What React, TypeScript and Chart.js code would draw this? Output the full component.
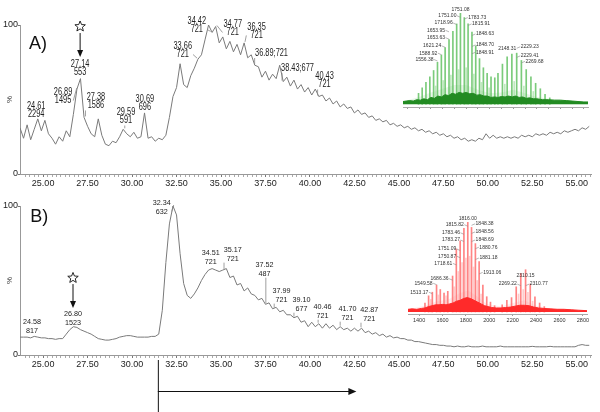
import React, { useEffect, useRef } from "react";
import { Chart, registerables } from "chart.js";
Chart.register(...registerables);

const FONT = "'Liberation Sans', Arial, sans-serif";

// ---------- chromatogram data ----------
const TIME_START = 23.7;
const TIME_STEP = 0.2;
const TIME_MIN = 23.7;
const TIME_MAX = 55.8;
const TIME_TICKS = [25, 27.5, 30, 32.5, 35, 37.5, 40, 42.5, 45, 47.5, 50, 52.5, 55];
const PCT_TICKS = [0, 100];

const traceA = [
  31, 24, 33, 23, 30, 37, 29, 36, 27, 24, 20, 25, 22,
  29, 25, 40, 57, 64, 38, 32, 27, 25,
  37, 26, 20, 19, 22, 21, 25, 30, 27, 25,
  28, 24, 25, 41, 24, 25, 22, 24, 23, 26,
  38, 52, 58, 74, 60, 58, 66, 71, 77, 80,
  90, 100, 95, 99, 88, 92, 84, 89, 82, 87,
  80, 88, 78, 80, 73, 72, 65, 69, 63, 67,
  64, 73, 62, 65, 59, 63, 57, 60, 55, 58,
  53, 57, 52, 53, 49, 51, 47, 49, 45, 47,
  44, 45, 41, 43, 40, 41, 38, 39, 36, 37,
  35, 36, 33, 34, 32, 33, 31, 32, 30, 31,
  29, 30, 28, 29, 27, 28, 26, 27, 25, 26,
  24, 25, 23, 24, 22, 23, 22, 24, 23, 27,
  24, 26, 24, 25, 24, 25, 24, 25, 24, 26,
  25, 26, 25, 27, 26, 27, 26, 28, 27, 28,
  27, 29, 28, 29, 30, 29, 31, 30, 32,
];

const traceB = [
  12, 12, 12, 11.5, 12.5, 12, 11.5, 11.5, 11, 11, 10.5, 11, 11,
  14, 17, 19, 18.5, 17, 16, 15, 14, 12.5,
  11, 10.5, 10, 10, 10.5, 11, 12, 12.5, 13, 13,
  12.5, 12, 12, 12, 12, 12.5, 12.5, 14, 30, 62,
  88, 100, 94, 68, 48, 40, 38, 41, 45, 50,
  54, 57, 58, 57, 56, 57, 58, 52, 53, 47,
  48, 43, 45, 41, 40, 37, 38, 34, 35, 31,
  32, 29, 30, 27, 27, 25, 26, 22, 23, 19,
  22, 19, 21, 18, 21, 18, 20, 17, 19, 17,
  18, 16, 18, 16, 18, 15, 16, 14, 15, 13,
  14, 12, 13, 11.5, 12, 11, 11, 10, 10, 9,
  9, 8.5, 8, 7.5, 7, 7, 6.5, 6.5, 6, 6,
  5.5, 6, 5.5, 5.5, 6, 5.5, 5.5, 5.5, 6, 5.5,
  5.5, 5.5, 5.5, 6, 5.5, 5.5, 5.5, 5.5, 5.5, 5.5,
  5.5, 5.5, 5.8, 5.5, 5.5, 5.5, 5.5, 5.8, 5.5, 5.5,
  5.5, 5.5, 5.5, 5.5, 5.5, 6.5, 7, 6.5, 6.5,
];

type ChromLabel = { peak: number; code: string; t: number; v: number; inline?: boolean };

const labelsA: ChromLabel[] = [
  { peak: 24.61, code: "2294", t: 24.61, v: 45.6 },
  { peak: 26.89, code: "1495", t: 26.12, v: 55 },
  { peak: 27.14, code: "553", t: 27.08, v: 73.8 },
  { peak: 27.38, code: "1586", t: 27.97, v: 51.7 },
  { peak: 29.59, code: "591", t: 29.66, v: 41.6 },
  { peak: 30.69, code: "696", t: 30.72, v: 50.3 },
  { peak: 33.66, code: "721", t: 32.85, v: 85.9 },
  { peak: 34.42, code: "721", t: 33.64, v: 102.7 },
  { peak: 34.77, code: "721", t: 35.66, v: 100.7 },
  { peak: 36.35, code: "721", t: 37.0, v: 98.7 },
  { peak: 36.89, code: "721", t: 37.84, v: 81.2, inline: true },
  { peak: 38.43, code: "677", t: 39.3, v: 71.1, inline: true },
  { peak: 40.43, code: "721", t: 40.82, v: 65.8 },
];

const labelsB: ChromLabel[] = [
  { peak: 24.58, code: "817", t: 24.38, v: 22 },
  { peak: 26.8, code: "1523", t: 26.68, v: 27.5 },
  { peak: 32.34, code: "632", t: 31.67, v: 102 },
  { peak: 34.51, code: "721", t: 34.42, v: 68.5 },
  { peak: 35.17, code: "721", t: 35.66, v: 70.5 },
  { peak: 37.52, code: "487", t: 37.45, v: 60.4 },
  { peak: 37.99, code: "721", t: 38.4, v: 43 },
  { peak: 39.1, code: "677", t: 39.53, v: 36.9 },
  { peak: 40.46, code: "721", t: 40.7, v: 32.2 },
  { peak: 41.7, code: "721", t: 42.11, v: 30.9 },
  { peak: 42.87, code: "721", t: 43.34, v: 30.2 },
];

const starA = { t: 27.08, v: 99, from: 94.6, to: 78.5 };
const starB = { t: 26.68, v: 51.7, from: 47.6, to: 31.5 };
const rangeB = [31.45, 42.61];

// ---------- mass spectra (insets) ----------
const MZ_MIN_A = 1263;
const MZ_MAX_A = 2835;
const MZ_MIN_B = 1305;
const MZ_MAX_B = 2835;
const MZ_TICKS_A = [1300, 1400, 1500, 1600, 1700, 1800, 1900, 2000, 2100, 2200, 2300, 2400, 2500, 2600, 2700, 2800];
const MZ_TICKS_B = [1400, 1600, 1800, 2000, 2200, 2400, 2600, 2800];

const sticksA: [number, number][] = [
  [1395, 12], [1426, 18], [1458, 24], [1491, 30], [1523, 37], [1556, 46], [1589, 54], [1621, 62],
  [1654, 71], [1687, 80], [1719, 88], [1751, 100], [1784, 95], [1816, 88], [1849, 79], [1881, 64],
  [1913, 50], [1946, 40], [1978, 34], [2011, 30], [2043, 29], [2070, 34], [2108, 44], [2148, 52],
  [2188, 55], [2229, 56], [2269, 48], [2310, 38], [2350, 30], [2390, 23], [2430, 17], [2470, 11], [2510, 7],
];
const minorA: [number, number][] = [
  [1540, 20], [1605, 26], [1670, 32], [1735, 38], [1800, 40], [1865, 33], [1930, 24], [1995, 18],
  [2128, 22], [2208, 25], [2290, 20], [2370, 14],
];
const bandA: [number, number][] = [
  [1263, 3], [1290, 3.5], [1320, 4], [1350, 3.5], [1380, 5], [1410, 4.5], [1440, 6], [1470, 5],
  [1500, 7.5], [1530, 6.5], [1560, 9], [1590, 8], [1620, 10.5], [1650, 9.5], [1680, 12], [1710, 11],
  [1740, 13], [1770, 12], [1800, 13], [1830, 11.5], [1860, 12], [1890, 10], [1920, 10.5], [1950, 9],
  [1980, 9], [2010, 7.5], [2040, 8], [2070, 7.5], [2100, 8.5], [2130, 8], [2160, 9], [2190, 8],
  [2220, 9], [2250, 7.5], [2280, 8], [2310, 6.5], [2340, 7], [2370, 6], [2400, 6], [2450, 5],
  [2500, 5], [2550, 4.5], [2600, 4.5], [2650, 4], [2700, 3.5], [2750, 3], [2800, 2.5], [2835, 2.5],
];
const hazeA: [number, number][] = [
  [1263, 3], [1400, 8], [1500, 13], [1600, 17], [1700, 21], [1800, 21], [1900, 16], [2000, 12],
  [2100, 13], [2200, 16], [2300, 12], [2400, 8], [2500, 6], [2600, 5], [2700, 4], [2835, 3],
];
const insetLabelsA: [number, number, string][] = [
  [1751.08, 104, "c"], [1751.0, 97, "l"], [1783.73, 95, "r"], [1718.96, 89, "l"], [1815.91, 88, "r"],
  [1653.95, 81, "l"], [1653.63, 73, "l"], [1848.63, 77, "r"], [1621.24, 64, "l"], [1848.7, 65, "r"],
  [1848.91, 57, "r"], [1588.92, 56, "l"], [1556.38, 49, "l"], [2148.31, 61, "c"], [2229.23, 63, "r"],
  [2229.41, 53, "r"], [2269.68, 47, "r"],
];

const sticksB: [number, number][] = [
  [1450, 10], [1481, 18], [1513, 22], [1549, 30], [1581, 25], [1613, 21], [1645, 23], [1686, 40],
  [1718, 70], [1751, 79], [1783, 93], [1816, 100], [1848, 94], [1881, 76], [1913, 56], [1945, 30],
  [1978, 17], [2010, 11], [2045, 7], [2110, 8], [2150, 13], [2190, 16], [2230, 28], [2269, 43],
  [2310, 47], [2350, 31], [2390, 17], [2430, 10], [2470, 6],
];
const minorB: [number, number][] = [
  [1500, 14], [1565, 19], [1630, 18], [1700, 28], [1735, 45], [1767, 55], [1800, 60], [1832, 62],
  [1865, 50], [1897, 35], [1930, 20], [2250, 20], [2290, 25], [2330, 22], [2370, 12],
];
const bandB: [number, number][] = [
  [1305, 3], [1340, 3.5], [1380, 3], [1420, 4], [1450, 4.5], [1480, 6], [1510, 7], [1540, 8],
  [1570, 8], [1600, 8.5], [1630, 8], [1660, 9], [1690, 10], [1720, 12], [1750, 13], [1780, 15],
  [1810, 16], [1840, 15], [1870, 13], [1900, 11], [1930, 9], [1960, 7], [1990, 6], [2020, 5],
  [2060, 4.5], [2100, 4.5], [2140, 5], [2180, 5.5], [2220, 6.5], [2260, 7.5], [2300, 7.5], [2340, 7],
  [2380, 5.5], [2420, 4.5], [2460, 4], [2520, 3.5], [2580, 3], [2640, 3], [2700, 2.5], [2760, 2], [2835, 1.5],
];
const hazeB: [number, number][] = [
  [1305, 3], [1450, 7], [1550, 12], [1650, 14], [1750, 21], [1820, 24], [1900, 17], [1980, 9],
  [2100, 6], [2200, 10], [2300, 13], [2400, 7], [2500, 4.5], [2700, 3], [2835, 2],
];
const insetLabelsB: [number, number, string][] = [
  [1816.0, 104, "c"], [1815.82, 97, "l"], [1848.38, 98, "r"], [1783.46, 88, "l"], [1848.56, 89, "r"],
  [1783.27, 80, "l"], [1848.69, 80, "r"], [1751.09, 70, "l"], [1880.76, 72, "r"], [1750.87, 62, "l"],
  [1881.18, 60, "r"], [1718.61, 54, "l"], [1913.06, 44, "r"], [1686.36, 37, "l"], [1549.58, 32, "l"],
  [1513.17, 22, "l"], [2310.15, 40, "c"], [2269.22, 31, "l"], [2310.77, 31, "r"],
];

// ---------- helpers ----------
const isMajor = (v: number) => Math.abs(v / 2.5 - Math.round(v / 2.5)) < 1e-6;
const minorTimes: number[] = [];
for (let k = 96; k <= 223; k++) minorTimes.push(k / 4);

function drawStar(ctx: CanvasRenderingContext2D, cx: number, cy: number) {
  const R = 5.5, r = 2.4;
  ctx.beginPath();
  for (let i = 0; i < 10; i++) {
    const rad = i % 2 === 0 ? R : r;
    const a = -Math.PI / 2 + (i * Math.PI) / 5;
    const px = cx + rad * Math.cos(a);
    const py = cy + rad * Math.sin(a);
    if (i === 0) ctx.moveTo(px, py);
    else ctx.lineTo(px, py);
  }
  ctx.closePath();
  ctx.stroke();
}

type ChromOpts = {
  values: number[];
  labels: ChromLabel[];
  letter: string;
  letterPos: [number, number];
  star: { t: number; v: number; from: number; to: number };
  fontSize: number;
  squish: number;
  padTop: number;
  padBottom: number;
  range?: number[];
};

function chromPlugin(o: ChromOpts) {
  return {
    id: "chromAnnot",
    afterDatasetsDraw(chart: any) {
      const { ctx, scales, chartArea } = chart;
      const x = scales.x, y = scales.y;
      ctx.save();
      ctx.fillStyle = "#111";
      ctx.font = `18px ${FONT}`;
      ctx.textAlign = "left";
      ctx.textBaseline = "alphabetic";
      ctx.fillText(o.letter, x.getPixelForValue(o.letterPos[0]), y.getPixelForValue(o.letterPos[1]));

      ctx.font = `${o.fontSize}px ${FONT}`;
      ctx.textBaseline = "middle";
      ctx.textAlign = "center";
      const gap = 8.5;
      for (const l of o.labels) {
        const lines = l.inline ? [`${l.peak.toFixed(2)};${l.code}`] : [l.peak.toFixed(2), l.code];
        const cx = x.getPixelForValue(l.t);
        const cy = y.getPixelForValue(l.v);
        let w = 0;
        lines.forEach((s, i) => {
          w = Math.max(w, ctx.measureText(s).width * o.squish);
          ctx.save();
          ctx.translate(cx, cy + i * gap);
          ctx.scale(o.squish, 1);
          ctx.fillStyle = "#222";
          ctx.fillText(s, 0, 0);
          ctx.restore();
        });
        const left = cx - w / 2, right = cx + w / 2;
        const lastY = cy + (lines.length - 1) * gap;
        const bottom = lastY + o.fontSize * 0.4;
        const idx = Math.round((l.peak - TIME_START) / TIME_STEP);
        const pv = o.values[Math.max(0, Math.min(o.values.length - 1, idx))];
        const px = x.getPixelForValue(l.peak);
        const py = y.getPixelForValue(pv) - 1;
        ctx.strokeStyle = "#888";
        ctx.lineWidth = 0.8;
        ctx.beginPath();
        if (px >= left - 2 && px <= right + 2) {
          if (py - bottom > 3) {
            ctx.moveTo(px, bottom + 1);
            ctx.lineTo(px, py);
          }
        } else if (px > right) {
          ctx.moveTo(right + 1, lastY);
          ctx.lineTo(px, py);
        } else {
          ctx.moveTo(left - 1, lastY);
          ctx.lineTo(px, py);
        }
        ctx.stroke();
      }

      const sx = x.getPixelForValue(o.star.t);
      ctx.strokeStyle = "#111";
      ctx.fillStyle = "#111";
      ctx.lineWidth = 0.9;
      drawStar(ctx, sx, y.getPixelForValue(o.star.v));
      const y1 = y.getPixelForValue(o.star.from);
      const y2 = y.getPixelForValue(o.star.to);
      ctx.lineWidth = 1;
      ctx.beginPath();
      ctx.moveTo(sx, y1);
      ctx.lineTo(sx, y2 - 6);
      ctx.stroke();
      ctx.beginPath();
      ctx.moveTo(sx - 3, y2 - 7);
      ctx.lineTo(sx + 3, y2 - 7);
      ctx.lineTo(sx, y2);
      ctx.closePath();
      ctx.fill();

      if (o.range) {
        const xa = x.getPixelForValue(o.range[0]);
        const xb = x.getPixelForValue(o.range[1]);
        const ya = chartArea.bottom + 5;
        const yb = chart.height;
        const yArrow = chartArea.bottom + 36;
        ctx.lineWidth = 1;
        ctx.beginPath();
        ctx.moveTo(xa + 0.5, ya);
        ctx.lineTo(xa + 0.5, yb);
        ctx.moveTo(xa, yArrow + 0.5);
        ctx.lineTo(xb - 7, yArrow + 0.5);
        ctx.stroke();
        ctx.beginPath();
        ctx.moveTo(xb - 8, yArrow - 3);
        ctx.lineTo(xb - 8, yArrow + 4);
        ctx.lineTo(xb, yArrow + 0.5);
        ctx.closePath();
        ctx.fill();
      }
      ctx.restore();
    },
  };
}

function chromConfig(o: ChromOpts): any {
  const pts = o.values.map((v, i) => ({ x: +(TIME_START + i * TIME_STEP).toFixed(2), y: v }));
  return {
    type: "line",
    data: {
      datasets: [
        { data: pts, borderColor: "#7a7a7a", borderWidth: 1, pointRadius: 0, tension: 0, fill: false },
      ],
    },
    options: {
      responsive: false,
      animation: false,
      devicePixelRatio: 1,
      events: [],
      layout: { padding: { left: 0, right: 9, top: o.padTop, bottom: o.padBottom } },
      plugins: { legend: { display: false }, tooltip: { enabled: false } },
      scales: {
        x: {
          type: "linear",
          min: TIME_MIN,
          max: TIME_MAX,
          afterBuildTicks: (s: any) => {
            s.ticks = minorTimes.map((v) => ({ value: v }));
          },
          ticks: {
            autoSkip: false,
            maxRotation: 0,
            padding: 1,
            color: "#222",
            font: { family: FONT, size: 9 },
            callback: (v: any) => (isMajor(Number(v)) ? Number(v).toFixed(2) : ""),
          },
          grid: {
            drawOnChartArea: false,
            tickLength: 3,
            tickColor: (c: any) => (c.tick && isMajor(c.tick.value) ? "#777" : "#aaa"),
          },
          border: { color: "#999" },
          afterFit: (s: any) => {
            s.height = 21;
          },
        },
        y: {
          min: 0,
          max: 100,
          afterBuildTicks: (s: any) => {
            s.ticks = PCT_TICKS.map((v) => ({ value: v }));
          },
          ticks: { padding: 0, color: "#222", font: { family: FONT, size: 9 } },
          grid: { drawOnChartArea: false, tickLength: 2, tickColor: "#777" },
          border: { color: "#999" },
          title: { display: true, text: "%", color: "#333", font: { family: FONT, size: 8 }, padding: { top: 5, bottom: 0 } },
          afterFit: (s: any) => {
            s.width = 20;
          },
        },
      },
    },
    plugins: [chromPlugin(o)],
  };
}

type InsetOpts = {
  min: number;
  max: number;
  ymin: number;
  ticks: number[];
  showLabels: boolean;
  axisH: number;
  pad: { left: number; right: number; top: number; bottom: number };
  sticks: [number, number][];
  minor: [number, number][];
  band: [number, number][];
  haze: [number, number][];
  labels: [number, number, string][];
  stickColor: string;
  minorColor: string;
  bandColor: string;
  hazeColor: string;
};

const toPts = (a: [number, number][]) => a.map(([x, y]) => ({ x, y }));

function insetPlugin(o: InsetOpts) {
  return {
    id: "insetLabels",
    afterDatasetsDraw(chart: any) {
      const { ctx, scales } = chart;
      const x = scales.x, y = scales.y;
      ctx.save();
      ctx.font = `5px ${FONT}`;
      ctx.fillStyle = "#333";
      ctx.textBaseline = "middle";
      ctx.strokeStyle = "#888";
      ctx.lineWidth = 0.6;
      for (const [mz, v, side] of o.labels) {
        const px = x.getPixelForValue(mz);
        const py = y.getPixelForValue(v);
        const txt = mz.toFixed(2);
        if (side === "c") {
          ctx.textAlign = "center";
          ctx.fillText(txt, px, py);
        } else if (side === "l") {
          ctx.textAlign = "right";
          ctx.fillText(txt, px - 4, py);
          ctx.beginPath();
          ctx.moveTo(px - 3.5, py);
          ctx.lineTo(px, py + 1.5);
          ctx.stroke();
        } else {
          ctx.textAlign = "left";
          ctx.fillText(txt, px + 4, py);
          ctx.beginPath();
          ctx.moveTo(px + 3.5, py);
          ctx.lineTo(px, py + 1.5);
          ctx.stroke();
        }
      }
      ctx.restore();
    },
  };
}

function insetConfig(o: InsetOpts): any {
  return {
    type: "bar",
    data: {
      datasets: [
        { type: "line", data: toPts(o.haze), borderWidth: 0, backgroundColor: o.hazeColor, fill: "origin", pointRadius: 0, order: 4 },
        { type: "bar", data: toPts(o.minor), backgroundColor: o.minorColor, barThickness: 1, grouped: false, order: 3 },
        { type: "bar", data: toPts(o.sticks), backgroundColor: o.stickColor, barThickness: 1, grouped: false, order: 2 },
        { type: "line", data: toPts(o.band), borderColor: o.bandColor, borderWidth: 1, backgroundColor: o.bandColor, fill: "origin", pointRadius: 0, order: 1 },
      ],
    },
    options: {
      responsive: false,
      animation: false,
      devicePixelRatio: 1,
      events: [],
      layout: { padding: o.pad },
      plugins: { legend: { display: false }, tooltip: { enabled: false } },
      scales: {
        x: {
          type: "linear",
          min: o.min,
          max: o.max,
          offset: false,
          afterBuildTicks: (s: any) => {
            s.ticks = o.ticks.map((v) => ({ value: v }));
          },
          ticks: {
            display: o.showLabels,
            autoSkip: false,
            maxRotation: 0,
            padding: 1,
            color: "#333",
            font: { family: FONT, size: 5.5 },
            callback: (v: any) => String(v),
          },
          grid: { offset: false, drawOnChartArea: false, tickLength: 2, tickColor: "#999" },
          border: { color: "#aaa" },
          afterFit: (s: any) => {
            s.height = o.axisH;
          },
        },
        y: { display: false, min: o.ymin, max: 100 },
      },
    },
    plugins: [insetPlugin(o)],
  };
}

export default function App() {
  const aRef = useRef<HTMLCanvasElement>(null);
  const bRef = useRef<HTMLCanvasElement>(null);
  const iaRef = useRef<HTMLCanvasElement>(null);
  const ibRef = useRef<HTMLCanvasElement>(null);

  useEffect(() => {
    const charts: Chart[] = [];
    charts.push(
      new Chart(aRef.current!, chromConfig({
        values: traceA, labels: labelsA, letter: "A)", letterPos: [24.21, 83.9], star: starA,
        fontSize: 10, squish: 0.74, padTop: 25, padBottom: 0,
      }))
    );
    charts.push(
      new Chart(bRef.current!, chromConfig({
        values: traceB, labels: labelsB, letter: "B)", letterPos: [24.27, 89.3], star: starB,
        fontSize: 8, squish: 0.9, padTop: 16, padBottom: 36, range: rangeB,
      }))
    );
    charts.push(
      new Chart(iaRef.current!, insetConfig({
        min: MZ_MIN_A, max: MZ_MAX_A, ymin: -3, ticks: MZ_TICKS_A, showLabels: false, axisH: 3,
        pad: { left: 3, right: 7, top: 13, bottom: 2 },
        sticks: sticksA, minor: minorA, band: bandA, haze: hazeA, labels: insetLabelsA,
        stickColor: "rgba(90,190,90,0.8)", minorColor: "rgba(140,215,140,0.55)",
        bandColor: "#228b22", hazeColor: "rgba(150,215,150,0.22)",
      }))
    );
    charts.push(
      new Chart(ibRef.current!, insetConfig({
        min: MZ_MIN_B, max: MZ_MAX_B, ymin: -2.2, ticks: MZ_TICKS_B, showLabels: true, axisH: 10,
        pad: { left: 8, right: 8, top: 12, bottom: 2 },
        sticks: sticksB, minor: minorB, band: bandB, haze: hazeB, labels: insetLabelsB,
        stickColor: "rgba(255,110,110,0.85)", minorColor: "rgba(255,160,160,0.55)",
        bandColor: "#ff2a2a", hazeColor: "rgba(255,170,170,0.22)",
      }))
    );
    return () => charts.forEach((c) => c.destroy());
  }, []);

  const abs = (left: number, top: number): React.CSSProperties => ({ position: "absolute", left, top });
  return (
    <div style={{ position: "absolute", left: 0, top: 0, width: 600, height: 412, background: "#fff", overflow: "hidden" }}>
      <canvas ref={aRef} width={600} height={195} style={abs(0, 0)} />
      <canvas ref={bRef} width={600} height={222} style={abs(0, 190)} />
      <canvas ref={iaRef} width={195} height={112} style={abs(400, 0)} />
      <canvas ref={ibRef} width={195} height={116} style={abs(400, 210)} />
    </div>
  );
}
